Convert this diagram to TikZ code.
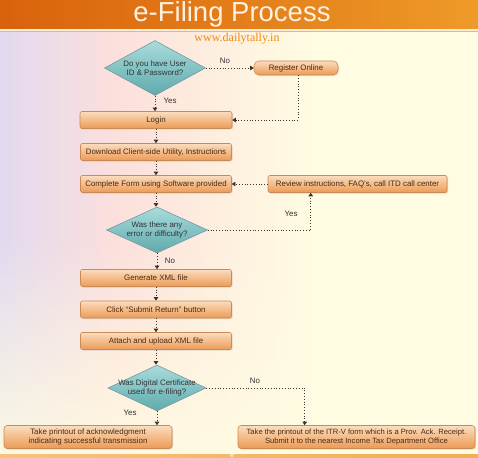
\documentclass[tikz,border=0pt]{standalone}
\usepackage{fontspec}
\setmainfont{Liberation Sans}
\newfontfamily\webfont{Liberation Serif}
\usetikzlibrary{shapes.geometric,arrows.meta,shadows,calc,fadings}
\definecolor{tbarL}{HTML}{D9620C}
\definecolor{tbarR}{HTML}{EE9A28}
\definecolor{bgL}{HTML}{E2DAF0}
\definecolor{bgM}{HTML}{FCDFDC}
\definecolor{bgR}{HTML}{FFFCE2}
\definecolor{boxTop}{HTML}{FBDDBE}
\definecolor{boxBot}{HTML}{EC9A55}
\definecolor{boxEdge}{HTML}{C98A55}
\definecolor{boxText}{HTML}{4A2A12}
\definecolor{diaTop}{HTML}{A9DCDB}
\definecolor{diaBot}{HTML}{5FAAAC}
\definecolor{diaEdge}{HTML}{7896A2}
\definecolor{arr}{HTML}{3A3430}
\definecolor{web}{HTML}{F28A0A}
\pgfdeclarehorizontalshading{bgshade}{100bp}{color(0bp)=(bgL); color(25bp)=(bgL); color(37bp)=(bgM); color(47bp)=(bgM!50!bgR); color(58bp)=(bgR); color(100bp)=(bgR)}
\tikzfading[name=botfade,top color=transparent!100,bottom color=transparent!10]
\tikzset{
  x=1pt,y=-1pt,
  stepbox/.style={draw=boxEdge,line width=0.6pt,rounded corners=2pt,top color=boxTop,bottom color=boxBot,
    text=boxText,font=\fontsize{7.9}{9}\selectfont,minimum height=17pt,inner sep=1pt,align=center,
    drop shadow={shadow xshift=1pt,shadow yshift=-1pt,opacity=0.25}},
  decide/.style={diamond,draw=diaEdge,line width=0.6pt,top color=diaTop,bottom color=diaBot,inner sep=0pt},
  dtext/.style={text=black!80,font=\fontsize{7.9}{9}\selectfont,inner sep=0pt,align=center},
  flow/.style={arr,line width=0.8pt,dotted,-{Triangle[width=4.5pt,length=3.5pt]}},
  lbl/.style={text=black!80,font=\fontsize{7.9}{9}\selectfont,inner sep=1pt}
}
\begin{document}
\begin{tikzpicture}
\useasboundingbox (0,0) rectangle (478,457);
% background
\shade[shading=bgshade] (0,31) rectangle (478,457);
\fill[bgR,path fading=botfade] (0,240) rectangle (478,457);
% title bar
\shade[left color=tbarL,right color=tbarR] (0,0) rectangle (478,29);
\fill[white!85!orange] (0,29) rectangle (478,31);
\fill[black!25] (0,31) rectangle (478,32);
\node[text=white!88!orange,font=\fontsize{27.5}{30}\selectfont] (title) at (232,14.5) {e-Filing Process};
\node[text=web,font=\webfont\fontsize{12}{14}\selectfont] (web) at (237,39) {www.dailytally.in};
% bottom band
\shade[left color=tbarR!60,right color=tbarR!80] (0,454) rectangle (478,457);
\draw[white,line width=0.5pt] (232,455) circle (1.6);

% nodes
\node[decide,minimum width=101pt,minimum height=55pt] (d1) at (155,68) {};
\node[dtext] (d1t) at (d1.center) {Do you have User\\ID \& Password?};
\node[stepbox,minimum width=84pt,minimum height=14pt,rounded corners=5pt] (reg) at (296,68) {Register Online};
\node[stepbox,minimum width=152pt] (login) at (156,120) {Login};
\node[stepbox,minimum width=151pt] (dl) at (156,152) {Download Client-side Utility, Instructions};
\node[stepbox,minimum width=151pt] (cf) at (156,184) {Complete Form using Software provided};
\node[stepbox,minimum width=179pt] (rev) at (357.5,184) {Review instructions, FAQ's, call ITD call center};
\node[decide,minimum width=101pt,minimum height=46pt] (d2) at (157,230) {};
\node[dtext] (d2t) at (d2.center) {Was there any\\error or difficulty?};
\node[stepbox,minimum width=151pt] (gen) at (156,278) {Generate XML file};
\node[stepbox,minimum width=151pt] (sub) at (156,309.5) {Click ``Submit Return'' button};
\node[stepbox,minimum width=151pt] (att) at (156,341) {Attach and upload XML file};
\node[decide,minimum width=98pt,minimum height=46pt] (d3) at (157,388) {};
\node[dtext] (d3t) at (d3.center) {Was Digital Certificate\\used for e-filing?};
\node[stepbox,minimum width=168pt,minimum height=23pt,rounded corners=3pt] (lb) at (88,437) {Take printout of acknowledgment\\indicating successful transmission};
\node[stepbox,minimum width=237pt,minimum height=23pt,rounded corners=3pt,font=\fontsize{7.6}{9}\selectfont] (rb) at (356.5,437) {Take the printout of the ITR-V form which is a Prov. Ack. Receipt.\\Submit it to the nearest Income Tax Department Office};

% connectors
\draw[flow] (d1.south) -- (d1.south |- login.north);
\node[lbl] (yes1) at (170,101) {Yes};
\draw[flow] (d1.east) -- (reg.west);
\node[lbl] (no1) at (225,61) {No};
\draw[flow] ([xshift=2pt]reg.south) |- (login.east);
\draw[flow] (login.south) -- (dl.north);
\draw[flow] (dl.south) -- (cf.north);
\draw[flow] (rev.west) -- (cf.east);
\draw[flow] (cf.south) -- (cf.south |- d2.north);
\draw[flow] (d2.east) -| ([xshift=43pt]rev.south west);
\node[lbl] (yes2) at (291,214) {Yes};
\draw[flow] (d2.south) -- (d2.south |- gen.north);
\node[lbl] (no2) at (170,261) {No};
\draw[flow] (gen.south) -- (sub.north);
\draw[flow] (sub.south) -- (att.north);
\draw[flow] (att.south) -- (att.south |- d3.north);
\draw[flow] (d3.east) -| ([xshift=67pt]rb.north west);
\node[lbl] (no3) at (255,381) {No};
\draw[flow] (d3.south) -- (d3.south |- lb.north);
\node[lbl] (yes3) at (130,413) {Yes};
\end{tikzpicture}
\end{document}
